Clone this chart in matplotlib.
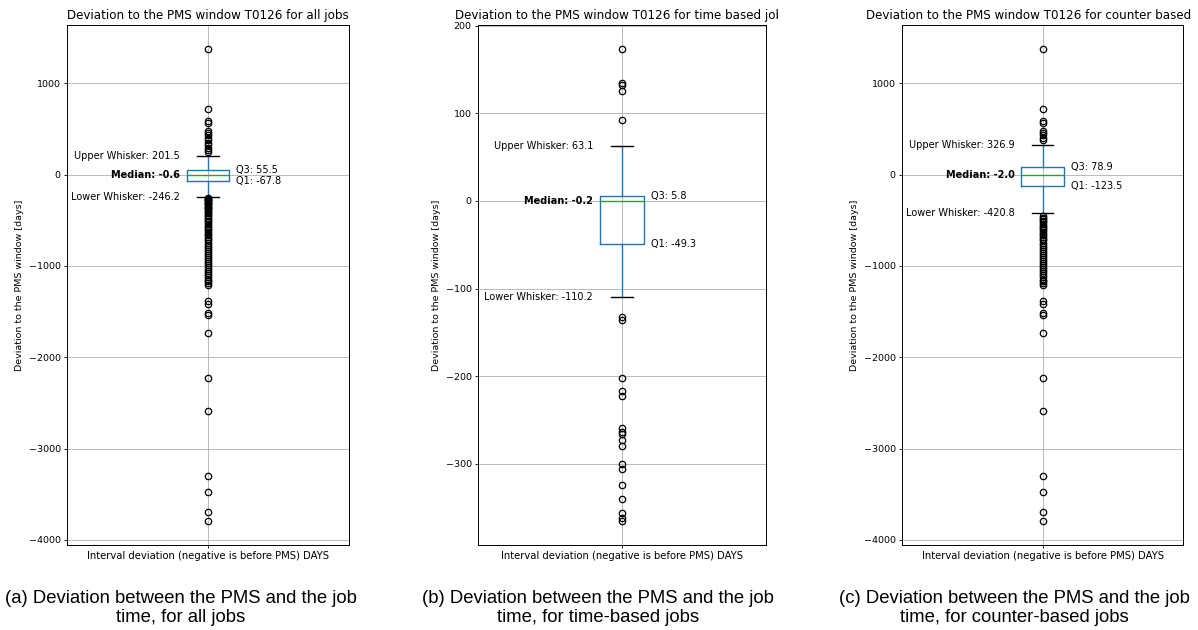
import matplotlib
matplotlib.use("Agg")
import matplotlib.pyplot as plt
from matplotlib.transforms import Bbox, TransformedBbox

# ---------------- data ----------------
panel_titles = [
    "Deviation to the PMS window T0126 for all jobs",
    "Deviation to the PMS window T0126 for time based jobs",
    "Deviation to the PMS window T0126 for counter based jobs",
]
captions = [
    "(a) Deviation between the PMS and the job\ntime, for all jobs",
    "(b) Deviation between the PMS and the job\ntime, for time-based jobs",
    "(c) Deviation between the PMS and the job\ntime, for counter-based jobs",
]
tick_label = "Interval deviation (negative is before PMS) DAYS"
y_label = "Deviation to the PMS window [days]"

medians = [-0.6, -0.2, -2.0]
q1s = [-67.8, -49.3, -123.5]
q3s = [55.5, 5.8, 78.9]
whis_low = [-246.2, -110.2, -420.8]
whis_high = [201.5, 63.1, 326.9]

fliers_all = [1380, 722, 583, 566, 482, 456, 430, 400, 375, 347, 322, 292, 266, 244,
              -259, -264, -266, -273, -280, -290, -300, -306, -318, -325, -341, -357,
              -362, -366, -380, -395, -410, -425, -440, -457, -470, -490, -505, -520,
              -540, -560, -575, -590, -610, -630, -650, -665, -680, -700, -720, -745,
              -770, -790, -810, -835, -860, -880, -900, -920, -945, -970, -990, -1010,
              -1030, -1050, -1075, -1100, -1120, -1150, -1170, -1190, -1205,
              -1388, -1413, -1515, -1540, -1738, -2224, -2585, -3297, -3480, -3699, -3797]
fliers_time = [174, 135, 133, 126, 92,
               -133, -136, -202, -217, -223, -259, -264, -266, -273, -280,
               -300, -306, -325, -341, -357, -362, -366]
fliers_counter = [1380, 722, 583, 566, 482, 456, 430, 400, 375,
                  -457, -470, -490, -505, -520, -540, -560, -575, -590, -610, -630,
                  -650, -665, -680, -700, -720, -745, -770, -790, -810, -835, -860,
                  -880, -900, -920, -945, -970, -990, -1010, -1030, -1050, -1075,
                  -1100, -1120, -1150, -1170, -1190, -1205,
                  -1388, -1413, -1515, -1540, -1738, -2224, -2585, -3297, -3480,
                  -3699, -3797]
fliers = [fliers_all, fliers_time, fliers_counter]

# ---------------- layout ----------------
W, H = 1198, 630
fig = plt.figure(figsize=(W / 100, H / 100), dpi=100)
axes_px = [(67, 349), (478, 766), (902, 1183)]
top_px, bot_px = 25, 545
title_clip_right = [420, 778, 1193]
caption_cx = [181, 598, 1014]

for i in range(3):
    x0, x1 = axes_px[i]
    ax = fig.add_axes([x0 / W, (H - bot_px) / H, (x1 - x0) / W, (bot_px - top_px) / H])
    stats = [dict(med=medians[i], q1=q1s[i], q3=q3s[i],
                  whislo=whis_low[i], whishi=whis_high[i],
                  fliers=fliers[i], label=tick_label)]
    ax.bxp(stats, positions=[1], widths=0.15, showfliers=True,
           boxprops=dict(color="#1f77b4", linewidth=1.0),
           whiskerprops=dict(color="#1f77b4", linewidth=1.0),
           capprops=dict(color="black", linewidth=1.0),
           medianprops=dict(color="#2ca02c", linewidth=1.0),
           flierprops=dict(marker="o", markerfacecolor="none",
                           markeredgecolor="black", markersize=4.6,
                           markeredgewidth=0.9, linestyle="none"))
    ax.set_xlim(0.5, 1.5)
    ax.grid(True, color="#b0b0b0", linewidth=0.6)
    ax.set_axisbelow(True)
    ax.tick_params(axis="y", labelsize=6.8, length=2.5, width=0.6, pad=2)
    ax.tick_params(axis="x", labelsize=7.2, length=2.5, width=0.6, pad=2)
    for s in ax.spines.values():
        s.set_linewidth(0.7)
    ax.set_ylabel(y_label, fontsize=6.8, labelpad=3)

    # title, clipped on the right like the cropped panels of the reference
    t = ax.text(0.5, 1.0 + 3.0 / (bot_px - top_px), panel_titles[i],
                transform=ax.transAxes, ha="center", va="bottom", fontsize=8.6)
    clip = TransformedBbox(Bbox([[0, 0], [title_clip_right[i] / W, 1]]), fig.transFigure)
    t.set_clip_box(clip)
    t.set_clip_on(True)

    # annotations
    ax.text(0.9, whis_high[i], f"Upper Whisker: {whis_high[i]:.1f}", ha="right",
            va="center", fontsize=7)
    ax.text(0.9, medians[i], f"Median: {medians[i]:.1f}", ha="right",
            va="center", fontsize=7, fontweight="bold")
    ax.text(0.9, whis_low[i], f"Lower Whisker: {whis_low[i]:.1f}", ha="right",
            va="center", fontsize=7)
    ax.text(1.1, q3s[i], f"Q3: {q3s[i]:.1f}", ha="left", va="center", fontsize=7)
    ax.text(1.1, q1s[i], f"Q1: {q1s[i]:.1f}", ha="left", va="center", fontsize=7)

    fig.text(caption_cx[i] / W, 1 - 608 / H, captions[i], ha="center", va="center",
             fontsize=13.3, family="Liberation Sans", linespacing=1.08)

fig.savefig("out.png", dpi=100)
